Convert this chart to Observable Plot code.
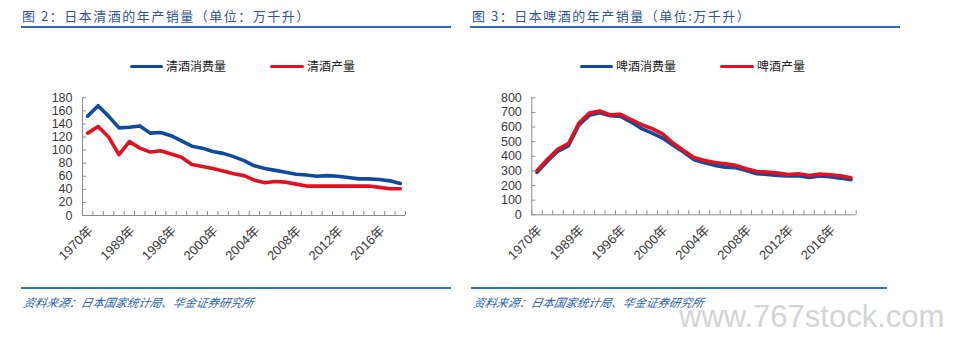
<!DOCTYPE html>
<html>
<head>
<meta charset="utf-8">
<script src="https://cdn.jsdelivr.net/npm/d3@7"></script>
<script src="https://cdn.jsdelivr.net/npm/@observablehq/plot@0.6"></script>
<style>
  html, body { margin: 0; padding: 0; background: #fff; }
  body { width: 954px; height: 364px; position: relative; overflow: hidden;
         font-family: "Liberation Sans", Arial, "Noto Sans CJK SC", sans-serif; }
  .abs { position: absolute; }
  .title { font-family: "Noto Sans CJK SC", sans-serif; font-size: 13px; letter-spacing: 1.5px;
           color: #2f5597; line-height: 16px; white-space: nowrap; }
  .uline { height: 2px; background: #2e6bb5; }
  .sep { height: 2px; background: #1f78c8; }
  .src { font-family: "Noto Sans CJK SC", sans-serif; font-size: 11.5px; font-style: italic;
         color: #2a62b0; white-space: nowrap; transform: skewX(-12deg); transform-origin: left bottom; }
  .lg-line { height: 3.5px; border-radius: 2px; }
  .lg-text { font-family: "Noto Sans CJK SC", sans-serif; font-size: 12px; color: #222; line-height: 14px; white-space: nowrap; }
  .wm { font-family: "Liberation Sans", Arial, sans-serif; font-size: 31px; color: #d4d4d4; white-space: nowrap; }
</style>
</head>
<body>
<div id="root"></div>
<script>
// ---- data ----
const categories = ["1970","1975","1980","1985","1989","1990","1994","1995","1996","1997","1998","1999",
  "2000","2001","2002","2003","2004","2005","2006","2007","2008","2009","2010","2011","2012","2013",
  "2014","2015","2016","2017","2018"];
const labelYears = ["1970","1989","1996","2000","2004","2008","2012","2016"];

const sakeConsumption = [152,168,152,134,135,137,126,127,122,114,106,103,98,95,90,84,76,72,69,66,63,62,60,61,60,58,56,56,55,53,49];
const sakeProduction  = [126,136,120,93,113,103,97,99,94,89,78,75,72,68,64,61,54,50,52,51,48,45,45,45,45,45,45,45,43,41,41];

const beerConsumption = [290,368,436,472,614,680,698,678,673,634,589,559,525,475,429,377,356,338,326,322,303,281,276,269,265,267,255,265,260,251,240];
const beerProduction  = [302,380,449,486,628,696,710,683,687,650,616,589,554,491,440,392,372,358,349,338,315,296,292,285,276,281,269,278,274,267,253];

const sakeTicks = [0,20,40,60,80,100,120,140,160,180];
const beerTicks = [0,100,200,300,400,500,600,700,800];

const sakeSeries = ["清酒消费量", "清酒产量"];
const beerSeries = ["啤酒消费量", "啤酒产量"];

const BLUE = "#0f4aa0";
const RED = "#e3111f";
const AXIS = "#8a8a8a";
const TXT = "#3a3a3a";

const root = document.getElementById("root");
function el(cls, style, text) {
  const d = document.createElement("div");
  d.className = "abs " + cls;
  Object.assign(d.style, style);
  if (text != null) d.textContent = text;
  root.appendChild(d);
  return d;
}

function chart({values, ticks, maxY, left, mLeft, mRight, mTop, mBottom}) {
  const W = 477, H = 280;
  const frameW = W - mLeft - mRight, frameH = H - mTop - mBottom;
  const rows = [];
  values.forEach((arr, s) => arr.forEach((v, i) => rows.push({i, v, s})));
  const boundaries = d3.range(categories.length + 1).map(k => k - 0.5);
  const labelIdx = labelYears.map(y => categories.indexOf(y));
  const svg = Plot.plot({
    width: W, height: H,
    marginLeft: mLeft, marginRight: mRight, marginTop: mTop, marginBottom: mBottom,
    style: {fontFamily: "'Liberation Sans', Arial, 'Noto Sans CJK SC', sans-serif", fontSize: "13px", color: TXT, background: "transparent"},
    x: {domain: [-0.5, categories.length - 0.5], axis: null, label: null},
    y: {domain: [0, maxY], axis: null, label: null},
    marks: [
      Plot.ruleY([0], {stroke: AXIS, strokeWidth: 1}),
      Plot.ruleX([-0.5], {stroke: AXIS, strokeWidth: 1}),
      Plot.tickX(boundaries, {x: d => d, stroke: AXIS, insetTop: frameH - 4}),
      Plot.tickY(ticks, {y: d => d, stroke: AXIS, insetRight: frameW - 4}),
      Plot.axisY(ticks, {tickSize: 0, tickPadding: 10, fontSize: 12.5, fill: TXT, label: null, tickFormat: d => String(d)}),
      Plot.axisX(labelIdx, {tickSize: 0, tickPadding: 13, tickRotate: -45, fontSize: 13, fill: TXT, label: null,
        tickFormat: i => categories[i] + "年", dx: 3}),
      Plot.line(rows, {x: "i", y: "v", z: "s", stroke: d => d.s === 0 ? BLUE : RED,
        strokeWidth: 3.6, strokeLinejoin: "round", strokeLinecap: "round"})
    ]
  });
  svg.style.position = "absolute";
  svg.style.left = left + "px";
  svg.style.top = "0px";
  root.appendChild(svg);
}

chart({values: [sakeConsumption, sakeProduction], ticks: sakeTicks, maxY: 180,
  left: 0, mLeft: 82, mRight: 72, mTop: 97.3, mBottom: 65});
chart({values: [beerConsumption, beerProduction], ticks: beerTicks, maxY: 800,
  left: 477, mLeft: 54.3, mRight: 98.3, mTop: 97.3, mBottom: 65.7});

// titles
el("title", {left: "22px", top: "8px"}, "图 2：日本清酒的年产销量（单位：万千升）");
el("title", {left: "472px", top: "8px"}, "图 3：日本啤酒的年产销量（单位:万千升）");
el("uline", {left: "21px", top: "26px", width: "430px"});
el("uline", {left: "470px", top: "26px", width: "430px"});

// legends
function legend(x1, x2, names) {
  el("lg-line", {left: x1 + "px", top: "64.5px", width: "33px", background: BLUE});
  el("lg-text", {left: (x1 + 36) + "px", top: "59px"}, names[0]);
  el("lg-line", {left: x2 + "px", top: "64.5px", width: "34px", background: RED});
  el("lg-text", {left: (x2 + 37) + "px", top: "59px"}, names[1]);
}
legend(130, 270, sakeSeries);
legend(580, 720, beerSeries);

// bottom
el("sep", {left: "21px", top: "287px", width: "430px"});
el("sep", {left: "471px", top: "287px", width: "416px"});
el("src", {left: "22px", top: "294px"}, "资料来源：日本国家统计局、华金证券研究所");
el("src", {left: "472px", top: "294px"}, "资料来源：日本国家统计局、华金证券研究所");
el("wm", {left: "679px", top: "299px"}, "www.767stock.com");
</script>
</body>
</html>
